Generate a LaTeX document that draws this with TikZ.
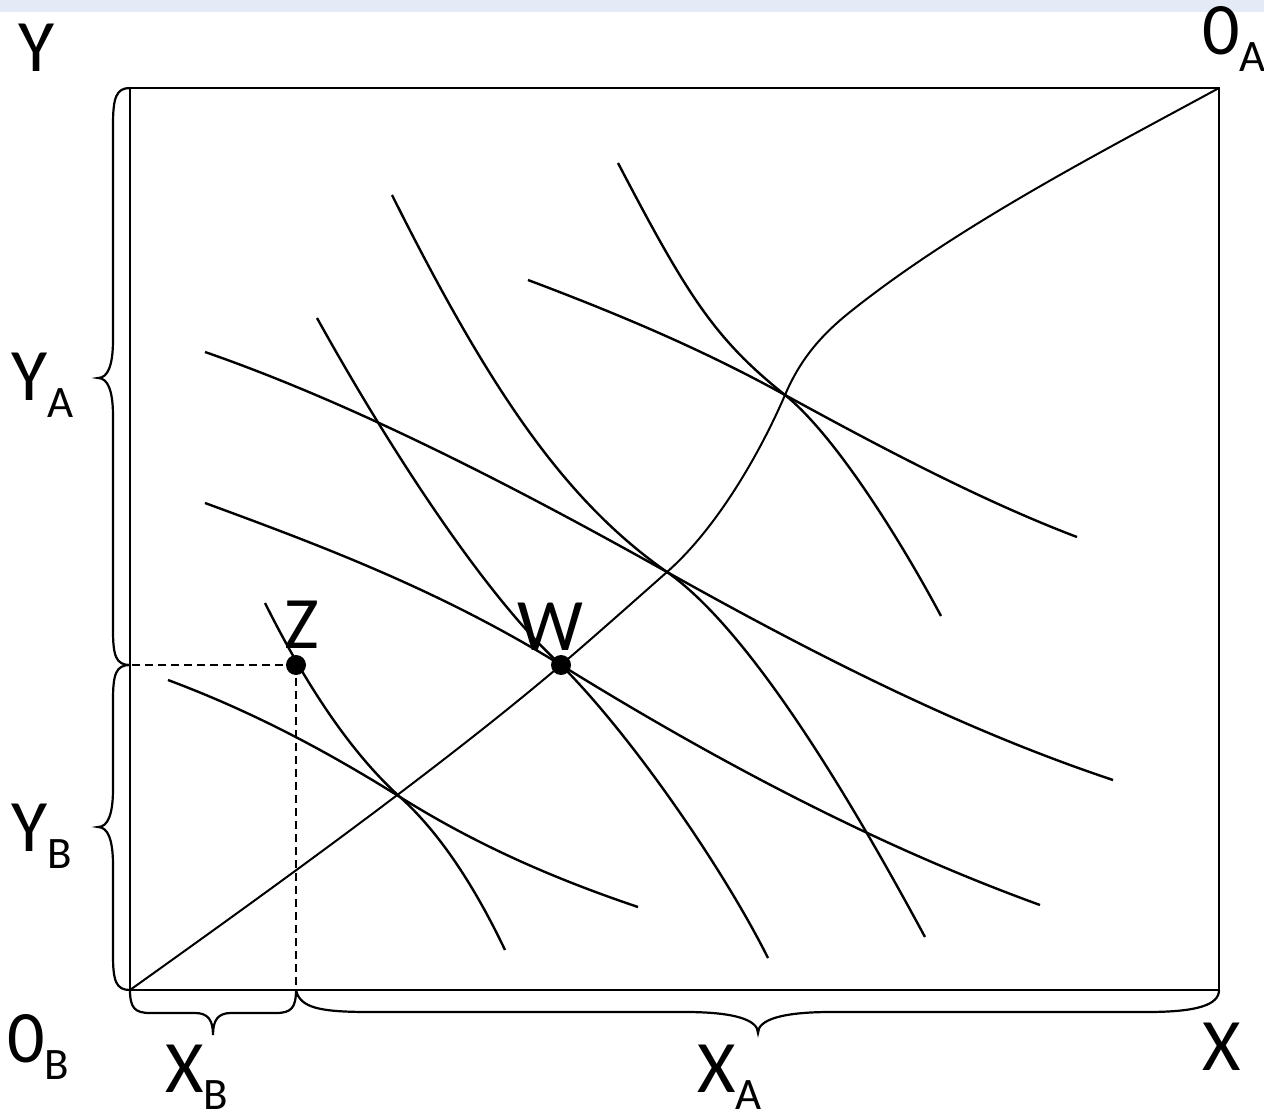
\documentclass[tikz,border=0pt]{standalone}
\usepackage{fontspec}
\setmainfont{Carlito}
\newcommand{\lowsub}[1]{\raisebox{-17pt}[\height][0pt]{\fontsize{45}{45}\selectfont #1}}
\definecolor{band}{RGB}{228,234,246}
\begin{document}
\begin{tikzpicture}[x=1pt,y=-1pt,
  boxline/.style={line width=2.2pt},
  curve/.style={line width=2.4pt},
  contract/.style={line width=2pt},
  bracepath/.style={line width=2.2pt},
  guide/.style={line width=1.8pt,dash pattern=on 8pt off 5pt},
  dot/.style={circle,fill=black,inner sep=0pt,minimum size=20pt},
  lbl/.style={anchor=base west,inner sep=0pt,font=\fontsize{74}{80}\selectfont}]
\useasboundingbox (0,0) rectangle (1264,1115);
\fill[band] (0,0) rectangle (1264,12.5);
% corners
\coordinate (OB) at (130,990);
\coordinate (OA) at (1219,88);
\coordinate (TL) at (130,88);
\coordinate (BR) at (1219,990);
% tangency points
\coordinate (T1) at (667,572);
\coordinate (T3) at (400,797);
\coordinate (T4) at (785,395);
\coordinate (M) at (850,312);
% box
\draw[boxline] (TL) -- (OA) -- (BR) -- (OB) -- cycle;
% points
\node[dot] (Z) at (296,665) {};
\node[dot] (W) at (561,665) {};
% guides
\draw[guide] (Z.center) -- (Z.center -| OB);
\draw[guide] (Z.center) -- (Z.center |- OB);
% B indifference curves
\draw[curve] (205,352) .. controls (355,404) and (517,488) .. (T1)
  .. controls (817,656) and (963,730) .. (1113,780);
\draw[curve] (205,503) .. controls (325,547) and (441,591) .. (W.center)
  .. controls (721,764) and (880,847) .. (1040,905);
\draw[curve] (168,680) .. controls (248,710) and (320,747) .. (T3)
  .. controls (480,847) and (558,880) .. (638,907);
\draw[curve] (528,280) .. controls (613,312) and (700,348) .. (T4)
  .. controls (880,447) and (982,501) .. (1077,537);
% A indifference curves
\draw[curve] (618,163) .. controls (688,297) and (715,339) .. (T4)
  .. controls (835,435) and (901,541) .. (941,616);
\draw[curve] (392,195) .. controls (492,395) and (567,502) .. (T1)
  .. controls (757,635) and (865,826) .. (925,937);
\draw[curve] (317,318) .. controls (397,462) and (491,602) .. (W.center)
  .. controls (631,735) and (723,868) .. (768,958);
\draw[curve] (265,603) .. controls (305,683) and (350,752) .. (T3)
  .. controls (440,833) and (475,887) .. (505,950);
% contract curve
\draw[contract] (OB) .. controls (270,890) and (441,767) .. (W.center)
  .. controls (596,635) and (632,603) .. (T1)
  .. controls (717,528) and (760,453) .. (T4)
  .. controls (800,360) and (820,336) .. (M)
  .. controls (960,224) and (1109,148) .. (OA);
% braces
\draw[bracepath] (TL) .. controls (116,88) and (113,98) .. (113,125) -- (113,340)
  .. controls (113,365) and (108,378) .. (98,378)
  .. controls (108,378) and (113,391) .. (113,416) -- (113,630)
  .. controls (113,656) and (116,665) .. (130,665);
\draw[bracepath] (130,665) .. controls (116,665) and (113,674) .. (113,700) -- (113,789)
  .. controls (113,814) and (108,827) .. (98,827)
  .. controls (108,827) and (113,840) .. (113,865) -- (113,955)
  .. controls (113,981) and (116,990) .. (OB);
\draw[bracepath] (OB) .. controls (130,1008) and (135,1013) .. (150,1013) -- (195,1013)
  .. controls (208,1013) and (213,1020) .. (213,1035)
  .. controls (213,1020) and (218,1013) .. (231,1013) -- (276,1013)
  .. controls (291,1013) and (296,1008) .. (296,990);
\draw[bracepath] (296,990) .. controls (300,1008) and (320,1012) .. (370,1012) -- (685,1012)
  .. controls (735,1012) and (758,1020) .. (758,1033)
  .. controls (758,1020) and (781,1012) .. (831,1012) -- (1147,1012)
  .. controls (1197,1012) and (1219,1005) .. (BR);
% labels
\node[lbl] (lY) at (18,72) {Y};
\node[lbl] (lOA) at (1202,55) {0\lowsub{A}};
\node[lbl] (lYA) at (11,400) {Y\lowsub{A}};
\node[lbl] (lYB) at (11,851) {Y\lowsub{B}};
\node[lbl] (lOB) at (7,1062) {0\lowsub{B}};
\node[lbl] (lXB) at (165,1092) {X\lowsub{B}};
\node[lbl] (lXA) at (697,1092) {X\lowsub{A}};
\node[lbl] (lX) at (1202,1070) {X};
\node[lbl] (lZ) at (284,648) {Z};
\node[lbl] (lW) at (517,650) {W};
\end{tikzpicture}
\end{document}
